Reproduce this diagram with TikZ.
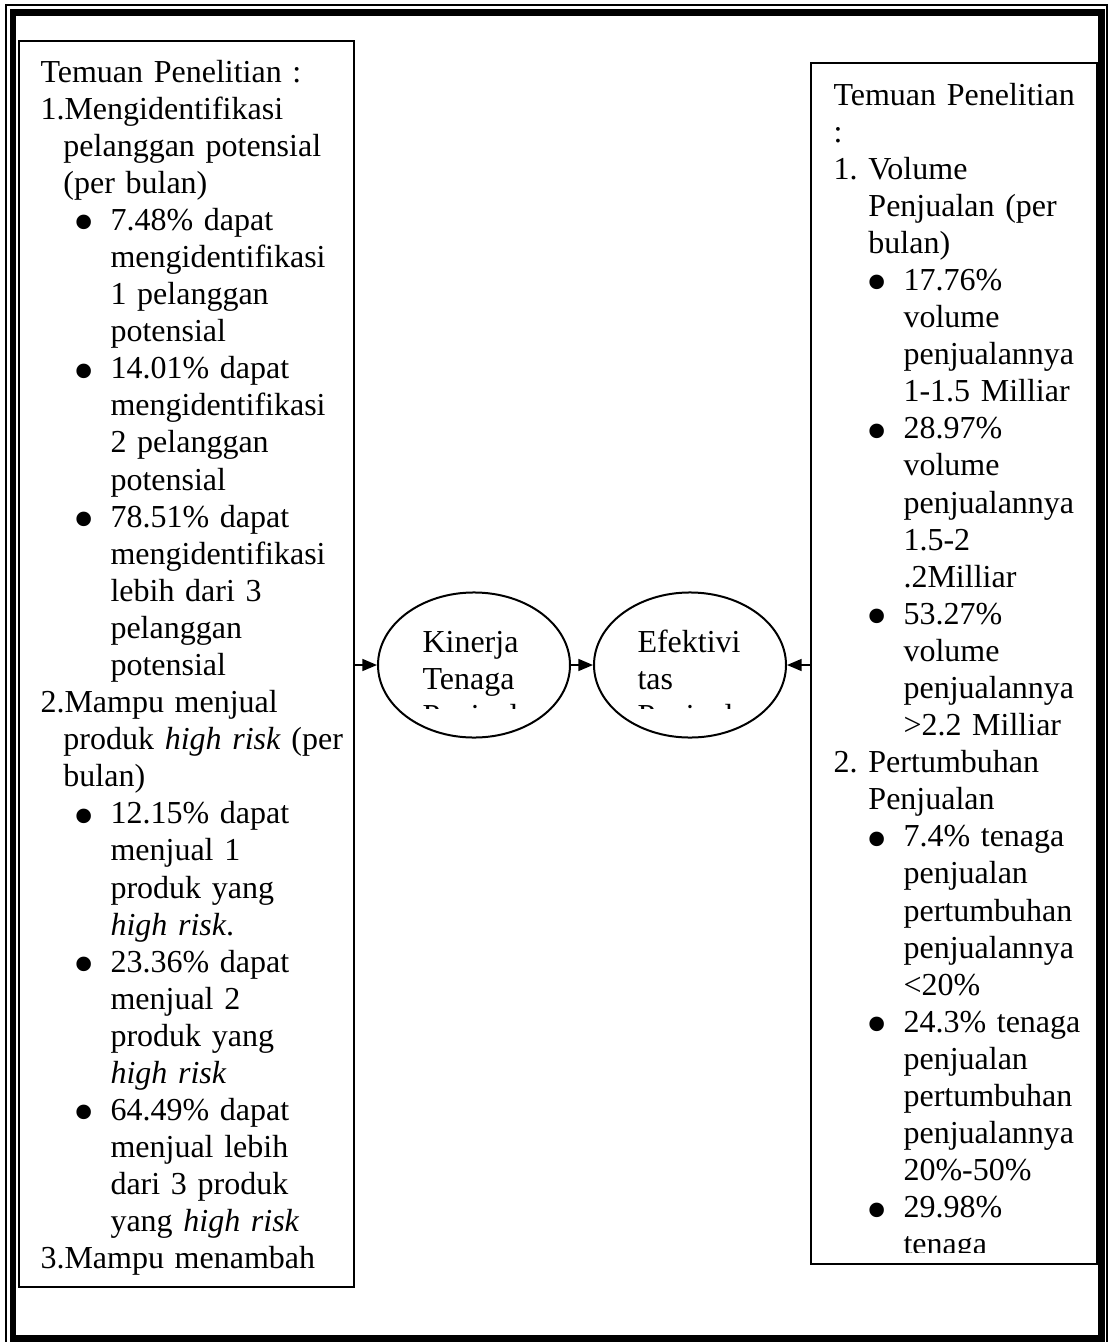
\documentclass[tikz,border=0pt]{standalone}
\usepackage{fontspec}
\setmainfont{Liberation Serif}
\usetikzlibrary{shapes.geometric,arrows.meta}
\newcommand{\hng}[1]{\hspace*{8.6pt}#1}
\newcommand{\hngr}[1]{\hspace*{13.1pt}#1}
\newcommand{\blt}[1]{\hspace*{12.2pt}\makebox[14.05pt][l]{\smash{\raisebox{-4.6pt}{\scalebox{1.9}{\textbullet}}}}#1}
\newcommand{\subline}[1]{\hspace*{26.25pt}#1}
\begin{document}
\begin{tikzpicture}[x=0.375pt,y=-0.375pt,
  every node/.style={font=\fontsize{12pt}{13.91pt}\selectfont},
  box/.style={draw,line width=0.6pt,rectangle,inner sep=0pt},
  oval/.style={draw,line width=0.75pt,ellipse,inner sep=0pt,minimum width=72pt,minimum height=54.4pt},
  txt/.style={anchor=base west,inner sep=0pt,align=left},
  arr/.style={line width=0.6pt,-{Triangle[length=5.5pt,width=4.5pt]}}]
\useasboundingbox (0,0) rectangle (1108,1342);
\draw[line width=0.5pt] (6,5) rectangle (1107,1350);
\draw[line width=2.45pt] (13,12.5) rectangle (1101.5,1338.5);

\node[box,minimum width=125.6pt,minimum height=467.25pt] (temuanL) at (186.5,664) {};
\node[box,minimum width=107.25pt,minimum height=450.4pt] (temuanR) at (954,663.5) {};
\node[oval] (kinerja) at (474,665) {};
\node[oval] (efektivitas) at (690,665) {};

\node[txt,text width=125pt] (teksL) at (40,82) {Temuan Penelitian :\\
1.Mengidentifikasi\\
\hng{pelanggan potensial}\\
\hng{(per bulan)}\\
\blt{7.48\% dapat}\\
\subline{mengidentifikasi}\\
\subline{1 pelanggan}\\
\subline{potensial}\\
\blt{14.01\% dapat}\\
\subline{mengidentifikasi}\\
\subline{2 pelanggan}\\
\subline{potensial}\\
\blt{78.51\% dapat}\\
\subline{mengidentifikasi}\\
\subline{lebih dari 3}\\
\subline{pelanggan}\\
\subline{potensial}\\
2.Mampu menjual\\
\hng{produk \textit{high risk} (per}\\
\hng{bulan)}\\
\blt{12.15\% dapat}\\
\subline{menjual 1}\\
\subline{produk yang}\\
\subline{\textit{high risk}.}\\
\blt{23.36\% dapat}\\
\subline{menjual 2}\\
\subline{produk yang}\\
\subline{\textit{high risk}}\\
\blt{64.49\% dapat}\\
\subline{menjual lebih}\\
\subline{dari 3 produk}\\
\subline{yang \textit{high risk}}\\
3.Mampu menambah};

\begin{scope}
\clip (811,63) rectangle (1097,1252);
\node[txt,text width=110pt] (teksR) at (833,105) {Temuan Penelitian\\
:\\
\makebox[13.1pt][l]{1.}Volume\\
\hngr{Penjualan (per}\\
\hngr{bulan)}\\
\blt{17.76\%}\\
\subline{volume}\\
\subline{penjualannya}\\
\subline{1-1.5 Milliar}\\
\blt{28.97\%}\\
\subline{volume}\\
\subline{penjualannya}\\
\subline{1.5-2}\\
\subline{.2Milliar}\\
\blt{53.27\%}\\
\subline{volume}\\
\subline{penjualannya}\\
\subline{>2.2 Milliar}\\
\makebox[13.1pt][l]{2.}Pertumbuhan\\
\hngr{Penjualan}\\
\blt{7.4\% tenaga}\\
\subline{penjualan}\\
\subline{pertumbuhan}\\
\subline{penjualannya}\\
\subline{<20\%}\\
\blt{24.3\% tenaga}\\
\subline{penjualan}\\
\subline{pertumbuhan}\\
\subline{penjualannya}\\
\subline{20\%-50\%}\\
\blt{29.98\%}\\
\subline{tenaga}};
\end{scope}

\begin{scope}
\clip (378,590) rectangle (786,708);
\node[txt,text width=45pt] (teksK) at (422,652) {Kinerja\\Tenaga\\Penjual};
\node[txt,text width=45pt] (teksE) at (637,652) {Efektivi\\tas\\Penjual};
\end{scope}

\draw[arr] (temuanL.east |- kinerja) -- (kinerja);
\draw[arr] (kinerja) -- (efektivitas);
\draw[arr] (temuanR.west |- efektivitas) -- (efektivitas);
\end{tikzpicture}
\end{document}
